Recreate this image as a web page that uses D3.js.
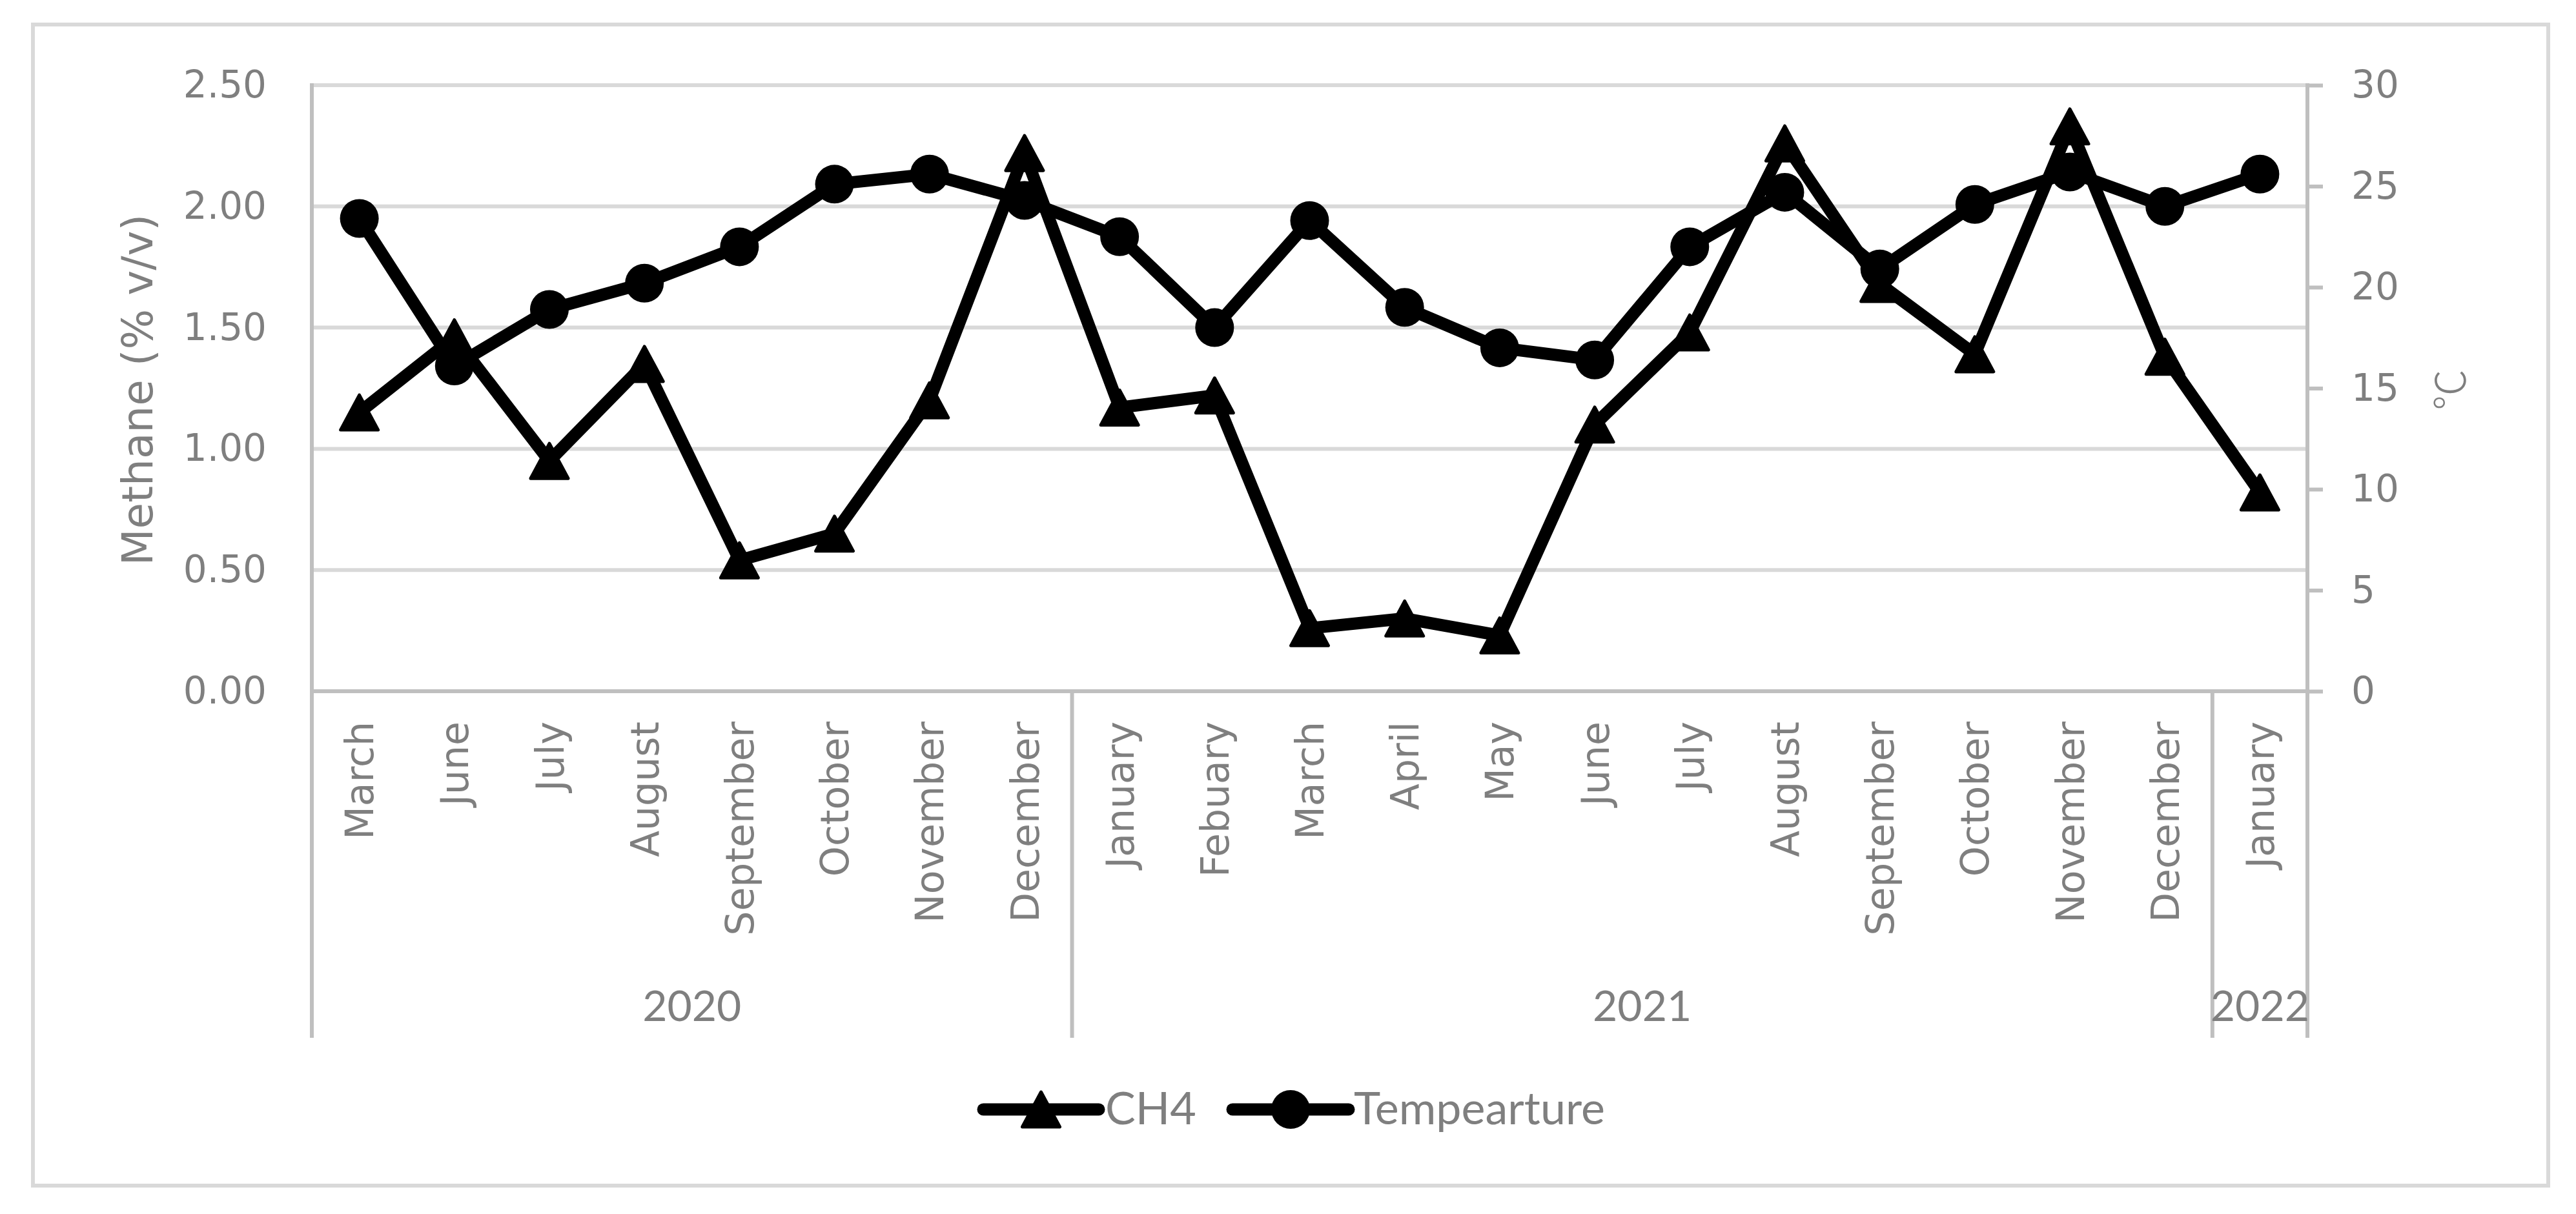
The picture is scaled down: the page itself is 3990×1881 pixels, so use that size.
<!DOCTYPE html>
<html>
<head>
<meta charset="utf-8">
<script src="https://cdn.jsdelivr.net/npm/d3@7"></script>
<style>
  html, body { margin: 0; padding: 0; background: #ffffff; }
  svg { display: block; }
</style>
</head>
<body>
<script>
// ---- data ----
const months = ["March","June","July","August","September","October","November","December",
                "January","Febuary","March","April","May","June","July","August","September","October","November","December",
                "January"];
const years = ["2020","2021","2022"];
const yearCounts = [8, 12, 1];
const ch4 = [1.15, 1.46, 0.95, 1.35, 0.54, 0.65, 1.20, 2.22,
             1.17, 1.22, 0.26, 0.30, 0.23, 1.10, 1.48, 2.26, 1.68, 1.39, 2.33, 1.38,
             0.82];
const temperature = [23.4, 16.1, 18.9, 20.2, 22.0, 25.1, 25.6, 24.3,
                     22.5, 18.0, 23.3, 19.0, 17.0, 16.4, 22.0, 24.7, 20.9, 24.1, 25.7, 24.0,
                     25.6];
const leftTicks = [0, 0.5, 1.0, 1.5, 2.0, 2.5];
const rightTicks = [0, 5, 10, 15, 20, 25, 30];
const seriesNames = ["CH4", "Tempearture"];
const leftTitle = "Methane (% v/v)";
const rightTitle = "\u2103";

// ---- layout ----
const W = 3990, H = 1881;
const plot = {left: 483, right: 3574, top: 132, bottom: 1071};
const groupBottom = 1608;
const textGray = "#7f7f7f";
const gridGray = "#d9d9d9";
const axisGray = "#bfbfbf";
const tickFont = "'DejaVu Sans', sans-serif";
const labelFont = "Lato, 'Liberation Sans', sans-serif";

const svg = d3.select("body").append("svg")
  .attr("width", W).attr("height", H);

svg.append("rect").attr("x", 0).attr("y", 0).attr("width", W).attr("height", H).attr("fill", "#fff");
// outer border
svg.append("rect").attr("x", 51).attr("y", 38).attr("width", 3896).attr("height", 1799)
  .attr("fill", "none").attr("stroke", gridGray).attr("stroke-width", 6);

const idx = d3.range(months.length);
const x = d3.scaleBand().domain(idx).range([plot.left, plot.right]).paddingInner(0).paddingOuter(0);
const cx = i => x(i) + x.bandwidth() / 2;
const yL = d3.scaleLinear().domain([0, 2.5]).range([plot.bottom, plot.top]);
const yR = d3.scaleLinear().domain([0, 30]).range([plot.bottom, plot.top]);

// gridlines
svg.append("g").selectAll("line").data(leftTicks.filter(t => t > 0)).join("line")
  .attr("x1", plot.left).attr("x2", plot.right)
  .attr("y1", d => yL(d)).attr("y2", d => yL(d))
  .attr("stroke", gridGray).attr("stroke-width", 6);

// left axis labels
const gL = svg.append("g").attr("transform", `translate(${plot.left},0)`)
  .call(d3.axisLeft(yL).tickValues(leftTicks).tickFormat(d3.format(".2f")).tickSize(0).tickPadding(70));
gL.select(".domain").remove();
gL.selectAll("text").attr("font-family", tickFont).attr("font-size", 58).attr("fill", textGray);

// right axis
const gR = svg.append("g").attr("transform", `translate(${plot.right},0)`)
  .call(d3.axisRight(yR).tickValues(rightTicks).tickFormat(d3.format("d")).tickSize(24).tickPadding(44));
gR.select(".domain").remove();
gR.selectAll(".tick line").attr("stroke", axisGray).attr("stroke-width", 6);
gR.selectAll("text").attr("font-family", tickFont).attr("font-size", 58).attr("fill", textGray);

// axis lines
svg.append("line").attr("x1", plot.left).attr("x2", plot.right).attr("y1", plot.bottom).attr("y2", plot.bottom)
  .attr("stroke", axisGray).attr("stroke-width", 6);
svg.append("line").attr("x1", plot.left).attr("x2", plot.left).attr("y1", plot.top - 3).attr("y2", groupBottom)
  .attr("stroke", axisGray).attr("stroke-width", 6);
svg.append("line").attr("x1", plot.right).attr("x2", plot.right).attr("y1", plot.top - 3).attr("y2", groupBottom)
  .attr("stroke", axisGray).attr("stroke-width", 6);

// group separators & year labels
let start = 0;
const groups = years.map((y, k) => { const g = {year: y, s: start, e: start + yearCounts[k]}; start += yearCounts[k]; return g; });
groups.slice(0, -1).forEach(g => {
  const xs = x(g.e);
  svg.append("line").attr("x1", xs).attr("x2", xs).attr("y1", plot.bottom).attr("y2", groupBottom)
    .attr("stroke", axisGray).attr("stroke-width", 6);
});
svg.append("g").selectAll("text").data(groups).join("text")
  .attr("x", g => (x(g.s) + (g.e < months.length ? x(g.e) : plot.right)) / 2)
  .attr("y", 1582)
  .attr("text-anchor", "middle")
  .attr("font-family", labelFont).attr("font-size", 66).attr("fill", textGray)
  .text(g => g.year);

// month labels
svg.append("g").selectAll("text").data(idx).join("text")
  .attr("transform", i => `translate(${cx(i)},1118) rotate(-90)`)
  .attr("text-anchor", "end").attr("dy", "0.36em")
  .attr("font-family", tickFont).attr("font-size", 60).attr("fill", textGray)
  .text(i => months[i]);

// axis titles
svg.append("text").attr("transform", `translate(212,604) rotate(-90)`)
  .attr("text-anchor", "middle").attr("dy", "0.36em")
  .attr("font-family", tickFont).attr("font-size", 66).attr("fill", textGray)
  .text(leftTitle);
svg.append("text").attr("transform", `translate(3795,604) rotate(-90)`)
  .attr("text-anchor", "middle").attr("dy", "0.36em")
  .attr("font-family", "'Noto Sans CJK SC', sans-serif").attr("font-weight", 300).attr("font-size", 64).attr("fill", textGray)
  .text(rightTitle);

// series
const lineStyle = sel => sel.attr("fill", "none").attr("stroke", "#000").attr("stroke-width", 19)
  .attr("stroke-linejoin", "round").attr("stroke-linecap", "round");
const triPath = "M0,-27 L29,27 L-29,27 Z";

svg.append("path").datum(ch4).call(lineStyle)
  .attr("d", d3.line().x((d, i) => cx(i)).y(d => yL(d)));
svg.append("path").datum(temperature).call(lineStyle)
  .attr("d", d3.line().x((d, i) => cx(i)).y(d => yR(d)));

svg.append("g").selectAll("path").data(ch4).join("path")
  .attr("transform", (d, i) => `translate(${cx(i)},${yL(d)})`)
  .attr("d", triPath).attr("fill", "#000").attr("stroke", "#000").attr("stroke-width", 5).attr("stroke-linejoin", "round");
svg.append("g").selectAll("circle").data(temperature).join("circle")
  .attr("cx", (d, i) => cx(i)).attr("cy", d => yR(d)).attr("r", 30).attr("fill", "#000");

// legend
const legY = 1719;
const leg = [{name: seriesNames[0], x1: 1523, x2: 1702, tx: 1712, type: "tri"},
             {name: seriesNames[1], x1: 1909, x2: 2089, tx: 2097, type: "circ"}];
leg.forEach(l => {
  svg.append("line").attr("x1", l.x1).attr("x2", l.x2).attr("y1", legY).attr("y2", legY).call(lineStyle);
  const mx = (l.x1 + l.x2) / 2;
  if (l.type === "tri") {
    svg.append("path").attr("transform", `translate(${mx},${legY})`).attr("d", triPath)
      .attr("fill", "#000").attr("stroke", "#000").attr("stroke-width", 5).attr("stroke-linejoin", "round");
  } else {
    svg.append("circle").attr("cx", mx).attr("cy", legY).attr("r", 30).attr("fill", "#000");
  }
  svg.append("text").attr("x", l.tx).attr("y", 1742)
    .attr("font-family", labelFont).attr("font-size", 70).attr("fill", textGray).text(l.name);
});
</script>
</body>
</html>
